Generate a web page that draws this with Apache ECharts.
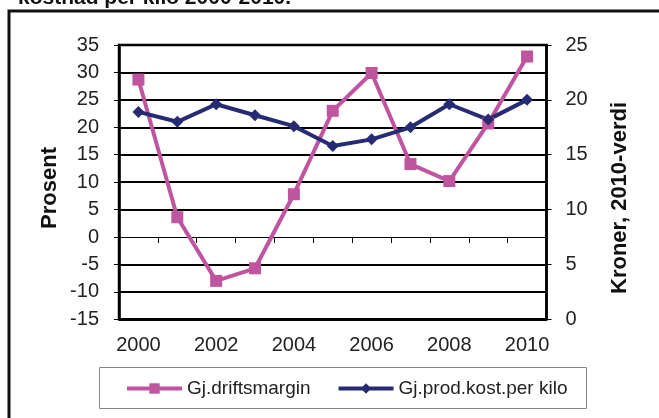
<!DOCTYPE html>
<html>
<head>
<meta charset="utf-8">
<script src="https://cdn.jsdelivr.net/npm/echarts@6/dist/echarts.min.js"></script>
<style>
  html, body { margin: 0; padding: 0; background: #fff; }
  #chart { width: 659px; height: 418px; }
</style>
</head>
<body>
<div id="chart"></div>
<script>
// years on the x axis
const years = ['2000', '2001', '2002', '2003', '2004', '2005', '2006', '2007', '2008', '2009', '2010'];
// Gj.driftsmargin, percent (left axis)
const driftsmargin = [28.7, 3.6, -8.0, -5.7, 7.8, 23.0, 29.9, 13.3, 10.2, 20.7, 32.9];
// Gj.prod.kost.per kilo, kroner 2010-verdi (right axis)
const prodKost = [18.9, 18.0, 19.6, 18.6, 17.6, 15.8, 16.4, 17.5, 19.6, 18.2, 20.0];

const pink = '#C0559F';
const navy = '#262B73';
const textColor = '#222';

// gridline colours from -15 upward; the zero line is drawn by the x axis instead
const gridColors = ['#000', '#000', '#000', 'rgba(0,0,0,0)', '#000', '#000', '#000', '#000', '#000', '#000', '#000'];

const chart = echarts.init(document.getElementById('chart'));

const option = {
  animation: false,
  textStyle: { fontFamily: 'Liberation Sans, Arial, sans-serif' },
  grid: {
    left: 119, right: 112.5, top: 45, bottom: 98.7,
    show: true, borderColor: '#000', borderWidth: 2.5, backgroundColor: '#fff'
  },
  graphic: [
    // outer frame, cut off on the right and bottom
    { type: 'rect', z: -10, shape: { x: 9, y: 11, width: 700, height: 500 },
      style: { fill: 'none', stroke: '#111', lineWidth: 3 } },
    { type: 'text', x: 18, y: -2,
      style: { text: 'kostnad per kilo 2000-2010.', font: 'bold 21px Liberation Sans, Arial, sans-serif',
               fill: '#111', verticalAlign: 'middle' } },
    { type: 'text', x: 49.5, y: 188, rotation: Math.PI / 2,
      style: { text: 'Prosent', font: 'bold 22px Liberation Sans, Arial, sans-serif',
               fill: '#111', align: 'center', verticalAlign: 'middle' } },
    { type: 'text', x: 620, y: 198, rotation: Math.PI / 2,
      style: { text: 'Kroner, 2010-verdi', font: 'bold 22px Liberation Sans, Arial, sans-serif',
               fill: '#111', align: 'center', verticalAlign: 'middle' } },
    // legend box
    { type: 'rect', shape: { x: 99.5, y: 367.5, width: 487, height: 41 },
      style: { fill: 'none', stroke: '#888', lineWidth: 1 } }
  ],
  legend: {
    left: 125, top: 379, padding: 0,
    itemWidth: 55, itemHeight: 13, itemGap: 26,
    lineStyle: { width: 4 },
    textStyle: { fontSize: 19, color: textColor },
    data: ['Gj.driftsmargin', 'Gj.prod.kost.per kilo']
  },
  xAxis: [
    {
      type: 'category', data: years, position: 'bottom',
      axisLine: { show: false, onZero: false },
      axisTick: { show: false },
      axisLabel: { interval: 1, fontSize: 20, color: textColor, margin: 16 }
    },
    {
      type: 'category', data: years, position: 'bottom',
      axisLine: { show: true, onZero: true, onZeroAxisIndex: 0, lineStyle: { color: '#000', width: 1 } },
      axisTick: { show: true, length: 6, lineStyle: { color: '#000', width: 1 } },
      axisLabel: { show: false }
    }
  ],
  yAxis: [
    {
      type: 'value', min: -15, max: 35, interval: 5, position: 'left',
      axisLine: { show: true, lineStyle: { color: '#000', width: 2.5 } },
      axisTick: { show: true, length: 5, lineStyle: { color: '#000', width: 1 } },
      axisLabel: { fontSize: 20, color: textColor, margin: 20 },
      splitLine: { show: true, lineStyle: { color: gridColors, width: 2 } }
    },
    {
      type: 'value', min: 0, max: 25, interval: 5, position: 'right',
      axisLine: { show: true, lineStyle: { color: '#000', width: 2.5 } },
      axisTick: { show: true, length: 5, lineStyle: { color: '#000', width: 1 } },
      axisLabel: { fontSize: 20, color: textColor, margin: 19 },
      splitLine: { show: false }
    }
  ],
  series: [
    {
      name: 'Gj.driftsmargin', type: 'line', xAxisIndex: 0, yAxisIndex: 0,
      data: driftsmargin,
      symbol: 'rect', symbolSize: 12,
      lineStyle: { color: pink, width: 4 },
      itemStyle: { color: pink }
    },
    {
      name: 'Gj.prod.kost.per kilo', type: 'line', xAxisIndex: 0, yAxisIndex: 1,
      data: prodKost,
      symbol: 'diamond', symbolSize: 12,
      lineStyle: { color: navy, width: 4 },
      itemStyle: { color: navy }
    }
  ]
};

chart.setOption(option);
</script>
</body>
</html>
